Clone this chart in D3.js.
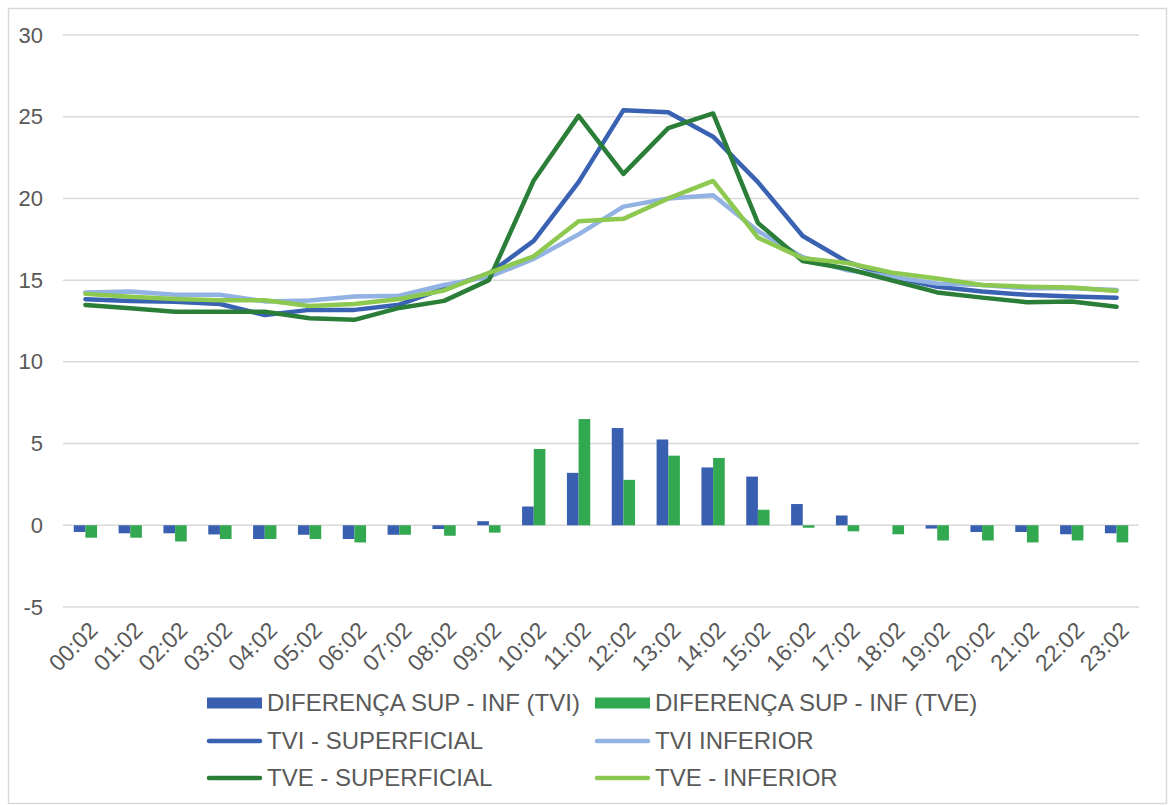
<!DOCTYPE html>
<html>
<head>
<meta charset="utf-8">
<script src="https://cdn.jsdelivr.net/npm/d3@7"></script>
<style>
  html, body { margin: 0; padding: 0; background: #fff; }
  svg { display: block; }
  text { font-family: "Liberation Sans", Arial, sans-serif; fill: #595959; }
</style>
</head>
<body>
<script>
const categories = ["00:02","01:02","02:02","03:02","04:02","05:02","06:02","07:02","08:02","09:02","10:02","11:02",
                    "12:02","13:02","14:02","15:02","16:02","17:02","18:02","19:02","20:02","21:02","22:02","23:02"];
const difTVI = [-0.41,-0.49,-0.49,-0.56,-0.84,-0.58,-0.84,-0.58,-0.23,0.25,1.15,3.21,5.95,5.25,3.54,2.98,1.30,0.60,0.0,-0.2,-0.41,-0.41,-0.55,-0.49];
const difTVE = [-0.76,-0.76,-0.99,-0.84,-0.84,-0.84,-1.05,-0.58,-0.64,-0.45,4.67,6.5,2.78,4.26,4.12,0.95,-0.15,-0.37,-0.55,-0.93,-0.93,-1.05,-0.93,-1.05];
const tviSup = [13.83,13.72,13.68,13.54,12.87,13.18,13.18,13.5,14.5,15.4,17.4,21.0,25.4,25.27,23.78,21.0,17.7,16.1,15.2,14.6,14.3,14.1,14.0,13.93];
const tviInf = [14.24,14.3,14.1,14.1,13.7,13.76,14.0,14.05,14.7,15.2,16.3,17.8,19.5,20.0,20.2,18.0,16.4,15.6,15.2,14.8,14.7,14.5,14.5,14.4];
const tveSup = [13.48,13.28,13.07,13.07,13.07,12.67,12.57,13.3,13.73,15.0,21.1,25.05,21.5,24.3,25.2,18.5,16.17,15.7,14.98,14.25,13.93,13.65,13.69,13.37];
const tveInf = [14.16,13.98,13.85,13.77,13.77,13.42,13.54,13.85,14.37,15.45,16.46,18.6,18.75,20.0,21.07,17.6,16.34,16.05,15.45,15.1,14.7,14.6,14.55,14.34];
const yTicks = [-5,0,5,10,15,20,25,30];

const barSeries = [
  {name: "DIFERENÇA SUP - INF (TVI)", values: difTVI, color: "#3960B0"},
  {name: "DIFERENÇA SUP - INF (TVE)", values: difTVE, color: "#32A850"}
];
const lineSeries = [
  {name: "TVI - SUPERFICIAL", values: tviSup, color: "#3A62B2"},
  {name: "TVI INFERIOR", values: tviInf, color: "#91B2E2"},
  {name: "TVE - SUPERFICIAL", values: tveSup, color: "#2A7E38"},
  {name: "TVE - INFERIOR", values: tveInf, color: "#8DC850"}
];

const W = 1168, H = 805;
const svg = d3.select("body").append("svg").attr("width", W).attr("height", H);

svg.append("rect").attr("x", 8.5).attr("y", 8.5).attr("width", 1158).attr("height", 795)
  .attr("fill", "#fff").attr("stroke", "#D9D9D9").attr("stroke-width", 1.5);

const x = d3.scaleBand().domain(categories).range([63, 1139]).padding(0);
const y = d3.scaleLinear().domain([-5, 30]).range([607, 35]);
const bw = x.bandwidth();
const x1 = d3.scaleBand().domain([0, 1]).range([bw * 0.24, bw * 0.76]).padding(0);

// gridlines
svg.append("g").selectAll("line").data(yTicks).join("line")
  .attr("x1", 63).attr("x2", 1139)
  .attr("y1", d => y(d)).attr("y2", d => y(d))
  .attr("stroke", "#D9D9D9").attr("stroke-width", 1.5);

// y axis labels
const yAxis = d3.axisLeft(y).tickValues(yTicks).tickSize(0).tickPadding(0).tickFormat(d => String(d));
const gy = svg.append("g").attr("transform", "translate(43,0)").call(yAxis);
gy.select(".domain").remove();
gy.selectAll("text").attr("font-size", 22).attr("fill", "#595959")
  .style("font-family", "'Liberation Sans', Arial, sans-serif");

// bars
barSeries.forEach((s, si) => {
  svg.append("g").selectAll("rect").data(s.values).join("rect")
    .attr("x", (d, i) => x(categories[i]) + x1(si))
    .attr("width", x1.bandwidth())
    .attr("y", d => Math.min(y(d), y(0)))
    .attr("height", d => Math.abs(y(d) - y(0)))
    .attr("fill", s.color);
});

// lines
const line = d3.line().x((d, i) => x(categories[i]) + bw / 2).y(d => y(d));
lineSeries.forEach(s => {
  svg.append("path").datum(s.values).attr("d", line)
    .attr("fill", "none").attr("stroke", s.color).attr("stroke-width", 4.5)
    .attr("stroke-linejoin", "round").attr("stroke-linecap", "round");
});

// x axis labels
const xAxis = d3.axisBottom(x).tickSize(0).tickPadding(0);
const gx = svg.append("g").call(xAxis);
gx.select(".domain").remove();
gx.selectAll(".tick").attr("transform", d => `translate(${x(d) + bw / 2 + 8},626)`);
gx.selectAll("text")
  .attr("y", 0).attr("x", 0).attr("dy", "0.35em")
  .attr("text-anchor", "end")
  .attr("transform", "rotate(-45)")
  .attr("font-size", 23).attr("fill", "#595959")
  .style("font-family", "'Liberation Sans', Arial, sans-serif");

// legend
const legendItems = [
  {s: barSeries[0], type: "bar", col: 0, row: 0},
  {s: barSeries[1], type: "bar", col: 1, row: 0},
  {s: lineSeries[0], type: "line", col: 0, row: 1},
  {s: lineSeries[1], type: "line", col: 1, row: 1},
  {s: lineSeries[2], type: "line", col: 0, row: 2},
  {s: lineSeries[3], type: "line", col: 1, row: 2}
];
const colX = [207, 595];
const rowY = [703, 741, 778];
const lg = svg.append("g");
legendItems.forEach(it => {
  const gx0 = colX[it.col], gy0 = rowY[it.row];
  if (it.type === "bar") {
    lg.append("rect").attr("x", gx0).attr("y", gy0 - 5.5).attr("width", 55).attr("height", 11).attr("fill", it.s.color);
  } else {
    lg.append("line").attr("x1", gx0 + 2).attr("x2", gx0 + 53).attr("y1", gy0).attr("y2", gy0)
      .attr("stroke", it.s.color).attr("stroke-width", 4.5).attr("stroke-linecap", "round");
  }
  lg.append("text").attr("x", gx0 + 60).attr("y", gy0).attr("dy", "0.35em")
    .attr("font-size", 24).text(it.s.name);
});
</script>
</body>
</html>
